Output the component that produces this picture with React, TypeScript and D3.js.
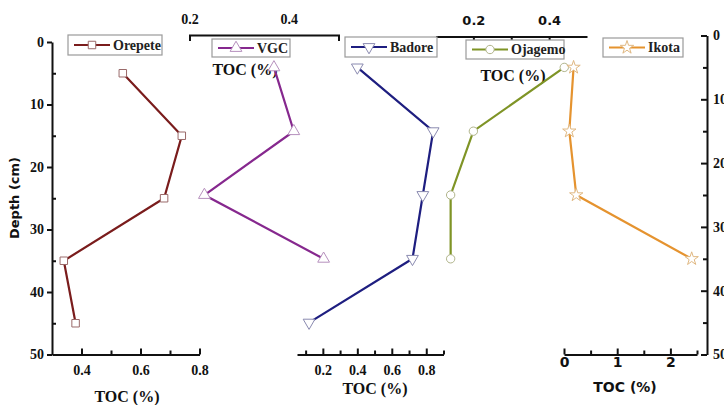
import React, { useEffect, useRef } from 'react';
import * as d3 from 'd3';

// depth (cm) of the samples
const depths = [5, 15, 25, 35, 45];

// TOC (%) per site
const orepete = [0.54, 0.74, 0.68, 0.34, 0.38];
const vgc = [0.37, 0.41, 0.23, 0.47];
const badore = [0.4, 0.84, 0.78, 0.72, 0.12];
const ojagemo = [0.44, 0.2, 0.14, 0.14];
const ikota = [0.18, 0.1, 0.23, 2.4];

const depthTicks = [0, 10, 20, 30, 40, 50];
const depthMinor = [5, 15, 25, 35, 45];

const SERIF = 'Liberation Serif';
const SANS = 'DejaVu Sans';

const App = () => {
  const svgRef = useRef<SVGSVGElement>(null);

  useEffect(() => {
    const svg = d3.select(svgRef.current);
    svg.selectAll('*').remove();

    const yLeft = d3.scaleLinear().domain([0, 50]).range([42, 354.5]);
    const yRight = d3.scaleLinear().domain([0, 50]).range([35.5, 354.5]);

    const xOre = d3.scaleLinear().domain([0.3, 0.8]).range([52, 199.5]);
    const xVgc = d3.scaleLinear().domain([0.2, 0.5]).range([189.5, 338.5]);
    const xBad = d3.scaleLinear().domain([0.05, 0.9]).range([297, 443.5]);
    const xOja = d3.scaleLinear().domain([0.1, 0.5]).range([435.5, 587]);
    const xIko = d3.scaleLinear().domain([0, 2.5]).range([564, 697]);

    const fmt = d3.format('.1f');

    const styleAxis = (g, font, size) => {
      g.attr('font-family', font).attr('font-size', size).attr('font-weight', 'bold');
      g.selectAll('path').attr('stroke', '#111').attr('stroke-width', 2);
      g.selectAll('line').attr('stroke', '#111').attr('stroke-width', 2);
      g.selectAll('text').attr('fill', '#111');
    };

    // left depth axis
    const gl = svg.append('g').attr('transform', 'translate(52,0)');
    gl.call(d3.axisLeft(yLeft).tickValues(depthTicks).tickSizeInner(5).tickSizeOuter(0).tickPadding(3));
    styleAxis(gl, SERIF, 14);
    const glm = svg.append('g').attr('transform', 'translate(52,0)');
    glm.call(d3.axisLeft(yLeft).tickValues(depthMinor).tickSizeInner(-4).tickSizeOuter(0).tickFormat(() => ''));
    glm.select('path').remove();
    styleAxis(glm, SERIF, 14);

    // right depth axis (labels run off the edge as in the source)
    const gr = svg.append('g').attr('transform', 'translate(707,0)');
    gr.call(d3.axisRight(yRight).tickValues(depthTicks).tickSizeInner(-6).tickSizeOuter(0).tickPadding(6));
    styleAxis(gr, SERIF, 14);
    const grm = svg.append('g').attr('transform', 'translate(707,0)');
    grm.call(d3.axisRight(yRight).tickValues(depthMinor).tickSizeInner(-4).tickSizeOuter(0).tickFormat(() => ''));
    grm.select('path').remove();
    styleAxis(grm, SERIF, 14);

    // bottom axes
    const bottom = (x, major, minor, font, size, pad, f) => {
      const g = svg.append('g').attr('transform', 'translate(0,354.5)');
      g.call(d3.axisBottom(x).tickValues(major).tickSizeInner(-6).tickSizeOuter(0).tickPadding(pad).tickFormat(f));
      styleAxis(g, font, size);
      const gm = svg.append('g').attr('transform', 'translate(0,354.5)');
      gm.call(d3.axisBottom(x).tickValues(minor).tickSizeInner(-4).tickSizeOuter(0).tickFormat(() => ''));
      gm.select('path').remove();
      styleAxis(gm, font, size);
    };
    bottom(xOre, [0.4, 0.6, 0.8], [0.5, 0.7], SERIF, 14, 11, fmt);
    bottom(xBad, [0.2, 0.4, 0.6, 0.8], [0.1, 0.3, 0.5, 0.7, 0.9], SERIF, 14, 11, fmt);
    bottom(xIko, [0, 1, 2], [0.5, 1.5, 2.5], SANS, 14, 3, d3.format('d'));

    // top axes
    const gv = svg.append('g').attr('transform', 'translate(0,35)');
    gv.call(d3.axisTop(xVgc).tickValues([0.2, 0.4]).tickSizeInner(0).tickSizeOuter(-6).tickPadding(11).tickFormat(fmt));
    styleAxis(gv, SERIF, 14);

    const go = svg.append('g').attr('transform', 'translate(0,36.5)');
    go.call(d3.axisTop(xOja).tickValues([0.2, 0.4]).tickSizeInner(-4).tickSizeOuter(0).tickPadding(12).tickFormat(fmt));
    styleAxis(go, SANS, 13);
    const gom = svg.append('g').attr('transform', 'translate(0,36.5)');
    gom.call(d3.axisTop(xOja).tickValues([0.3]).tickSizeInner(-4).tickSizeOuter(0).tickFormat(() => ''));
    gom.select('path').remove();
    styleAxis(gom, SANS, 13);

    // axis titles
    const title = (txt, x, y, font, size) => {
      svg.append('text')
        .attr('x', x)
        .attr('y', y)
        .attr('text-anchor', 'middle')
        .attr('font-family', font)
        .attr('font-size', size)
        .attr('font-weight', 'bold')
        .attr('fill', '#111')
        .text(txt);
    };
    title('TOC (%)', 127, 402, SERIF, 16);
    title('TOC (%)', 245, 75, SERIF, 16);
    title('TOC (%)', 375, 394, SERIF, 16);
    title('TOC (%)', 513, 81, SERIF, 16);
    title('TOC (%)', 625, 392, SANS, 14);

    svg.append('text')
      .attr('transform', 'translate(19,198) rotate(-90)')
      .attr('text-anchor', 'middle')
      .attr('font-family', SANS)
      .attr('font-size', 13)
      .attr('font-weight', 'bold')
      .attr('fill', '#111')
      .text('Depth (cm)');

    const series = [
      { name: 'Orepete', vals: orepete, x: xOre, y: yLeft, color: '#7a1c1c', mk: '#9a6a6a', sym: d3.symbolSquare, size: 56, rot: 0, box: [68, 35, 94, 20] },
      { name: 'VGC', vals: vgc, x: xVgc, y: yRight, color: '#86288e', mk: '#b690bd', sym: d3.symbolTriangle, size: 60, rot: 0, box: [212, 39, 78, 18] },
      { name: 'Badore', vals: badore, x: xBad, y: yRight, color: '#1e1e80', mk: '#8a8ab0', sym: d3.symbolTriangle, size: 60, rot: 180, box: [345, 37, 92, 20] },
      { name: 'Ojagemo', vals: ojagemo, x: xOja, y: yRight, color: '#7f9426', mk: '#b0b48a', sym: d3.symbolCircle, size: 55, rot: 0, box: [466, 40, 98, 19] },
      { name: 'Ikota', vals: ikota, x: xIko, y: yRight, color: '#e5932f', mk: '#e0b882', sym: d3.symbolStar, size: 55, rot: 0, box: [603, 38, 80, 19] },
    ];

    series.forEach(s => {
      const pts = s.vals.map((v, i) => [s.x(v), s.y(depths[i])]);
      const line = d3.line();
      svg.append('path')
        .attr('d', line(pts))
        .attr('fill', 'none')
        .attr('stroke', s.color)
        .attr('stroke-width', 2.2);
      const sym = d3.symbol().type(s.sym).size(s.size);
      svg.selectAll(null)
        .data(pts)
        .enter()
        .append('path')
        .attr('d', sym)
        .attr('transform', d => `translate(${d[0]},${d[1]}) rotate(${s.rot})`)
        .attr('fill', '#fff')
        .attr('stroke', s.mk)
        .attr('stroke-width', 1);

      // legend
      const [bx, by, bw, bh] = s.box;
      const lg = svg.append('g');
      lg.append('rect')
        .attr('x', bx).attr('y', by).attr('width', bw).attr('height', bh)
        .attr('fill', '#fff').attr('stroke', '#9a9a9a').attr('stroke-width', 1.2);
      const cy = by + bh / 2;
      lg.append('line')
        .attr('x1', bx + 6).attr('x2', bx + 42).attr('y1', cy).attr('y2', cy)
        .attr('stroke', s.color).attr('stroke-width', 2.2);
      lg.append('path')
        .attr('d', sym)
        .attr('transform', `translate(${bx + 24},${cy}) rotate(${s.rot})`)
        .attr('fill', '#fff')
        .attr('stroke', s.mk)
        .attr('stroke-width', 1);
      lg.append('text')
        .attr('x', bx + 45)
        .attr('y', cy + 4.5)
        .attr('font-family', SERIF)
        .attr('font-size', 14)
        .attr('font-weight', 'bold')
        .attr('fill', '#222')
        .text(s.name);
    });
  }, []);

  return (
    <div style={{ position: 'absolute', left: 0, top: 0 }}>
      <svg ref={svgRef} width={724} height={405} style={{ display: 'block', background: '#fff' }}></svg>
    </div>
  );
};

export default App;
